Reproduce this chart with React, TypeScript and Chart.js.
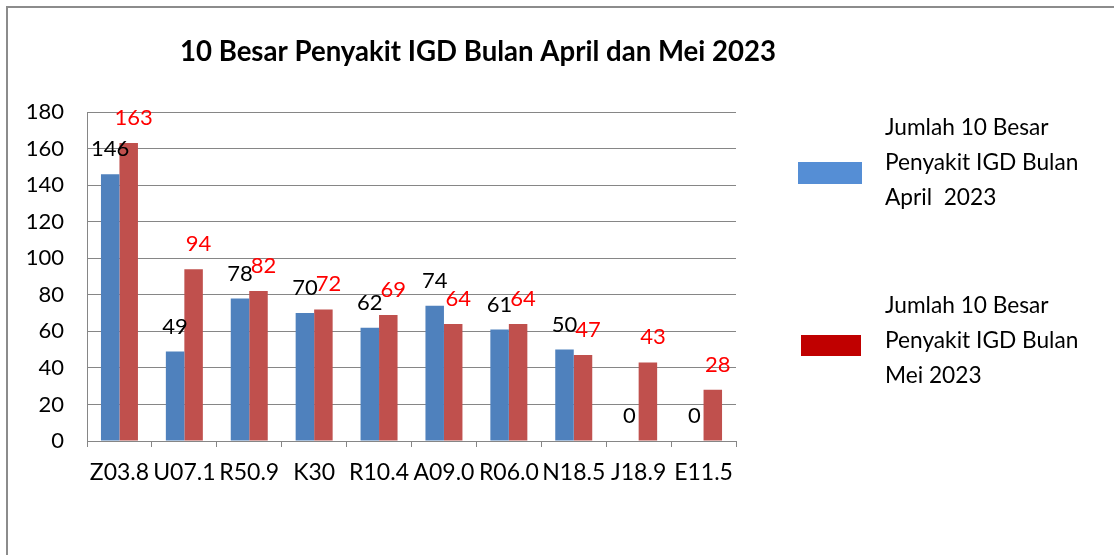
import React, { useEffect, useRef } from "react";
import { Chart, registerables } from "chart.js";

Chart.register(...registerables);

const categories = ["Z03.8", "U07.1", "R50.9", "K30", "R10.4", "A09.0", "R06.0", "N18.5", "J18.9", "E11.5"];
const aprilValues = [146, 49, 78, 70, 62, 74, 61, 50, 0, 0];
const meiValues = [163, 94, 82, 72, 69, 64, 64, 47, 43, 28];
const yTicks = [0, 20, 40, 60, 80, 100, 120, 140, 160, 180];
const titleText = "10 Besar Penyakit IGD Bulan April dan Mei 2023";
const aprilLegend = ["Jumlah 10 Besar", "Penyakit IGD Bulan", "April  2023"];
const meiLegend = ["Jumlah 10 Besar", "Penyakit IGD Bulan", "Mei 2023"];

const FONT = "Lato, 'Open Sans', sans-serif";

const decorPlugin = {
  id: "decor",
  beforeDraw(chart: any) {
    const ctx = chart.ctx;
    ctx.save();
    ctx.fillStyle = "#ffffff";
    ctx.fillRect(0, 0, chart.width, chart.height);
    ctx.strokeStyle = "#8c8c8c";
    ctx.lineWidth = 2;
    ctx.strokeRect(7, 7, chart.width + 20, chart.height + 20);
    ctx.restore();
  },
  afterDraw(chart: any) {
    const ctx = chart.ctx;
    ctx.save();
    // title
    ctx.font = `bold 27.6px ${FONT}`;
    ctx.fillStyle = "#000000";
    ctx.textAlign = "center";
    ctx.textBaseline = "middle";
    ctx.fillText(titleText, 478, 52);
    // legend
    const drawEntry = (lines: string[], color: string, sx: number, sy: number, sw: number, sh: number, baseY: number) => {
      ctx.fillStyle = color;
      ctx.fillRect(sx, sy, sw, sh);
      ctx.fillStyle = "#000000";
      ctx.font = `22.7px ${FONT}`;
      ctx.textAlign = "left";
      ctx.textBaseline = "alphabetic";
      lines.forEach((l, i) => ctx.fillText(l, 885, baseY + i * 35));
    };
    drawEntry(aprilLegend, "#558ED5", 798, 162, 64, 22, 135);
    drawEntry(meiLegend, "#C00000", 801, 335, 60, 21, 313);
    ctx.restore();
  },
  afterDatasetsDraw(chart: any) {
    const ctx = chart.ctx;
    ctx.save();
    ctx.font = `22px ${FONT}`;
    ctx.textAlign = "center";
    ctx.textBaseline = "middle";
    chart.data.datasets.forEach((ds: any, di: number) => {
      const meta = chart.getDatasetMeta(di);
      ctx.fillStyle = di === 0 ? "#000000" : "#FF0000";
      const dx = di === 0 ? 0 : 5;
      meta.data.forEach((el: any, i: number) => {
        ctx.fillText(String(ds.data[i]), el.x + dx, el.y - 25);
      });
    });
    ctx.restore();
  },
};

export default function App() {
  const ref = useRef<HTMLCanvasElement | null>(null);
  useEffect(() => {
    document.body.style.margin = "0";
    const chart = new Chart(ref.current as HTMLCanvasElement, {
      type: "bar",
      data: {
        labels: categories,
        datasets: [
          { label: aprilLegend.join(" "), data: aprilValues, backgroundColor: "#4F81BD", categoryPercentage: 0.57, barPercentage: 1 },
          { label: meiLegend.join(" "), data: meiValues, backgroundColor: "#C0504D", categoryPercentage: 0.57, barPercentage: 1 },
        ],
      },
      options: {
        animation: false,
        responsive: false,
        maintainAspectRatio: false,
        layout: { padding: { top: 112, right: 378, left: 0, bottom: 0 } },
        plugins: { legend: { display: false }, title: { display: false }, tooltip: { enabled: false } },
        scales: {
          x: {
            afterFit: (s: any) => { s.height = 114; },
            grid: { display: true, drawOnChartArea: false, drawTicks: true, tickLength: 6, color: "#868686" },
            border: { display: true, color: "#868686", width: 1 },
            ticks: { color: "#000000", font: { family: FONT, size: 23 }, padding: 12, maxRotation: 0, autoSkip: false },
          },
          y: {
            min: 0,
            max: 180,
            afterFit: (s: any) => { s.width = 87; },
            afterBuildTicks: (s: any) => { s.ticks = yTicks.map((v) => ({ value: v })); },
            grid: { color: "#868686", drawTicks: false, lineWidth: 1 },
            border: { display: true, color: "#868686", width: 1 },
            ticks: { color: "#000000", font: { family: FONT, size: 22 }, padding: 23 },
          },
        },
      },
      plugins: [decorPlugin],
    });
    return () => chart.destroy();
  }, []);
  return (
    <div style={{ position: "absolute", left: 0, top: 0, width: 1114, height: 555 }}>
      <canvas ref={ref} width={1114} height={555} style={{ display: "block" }} />
    </div>
  );
}
